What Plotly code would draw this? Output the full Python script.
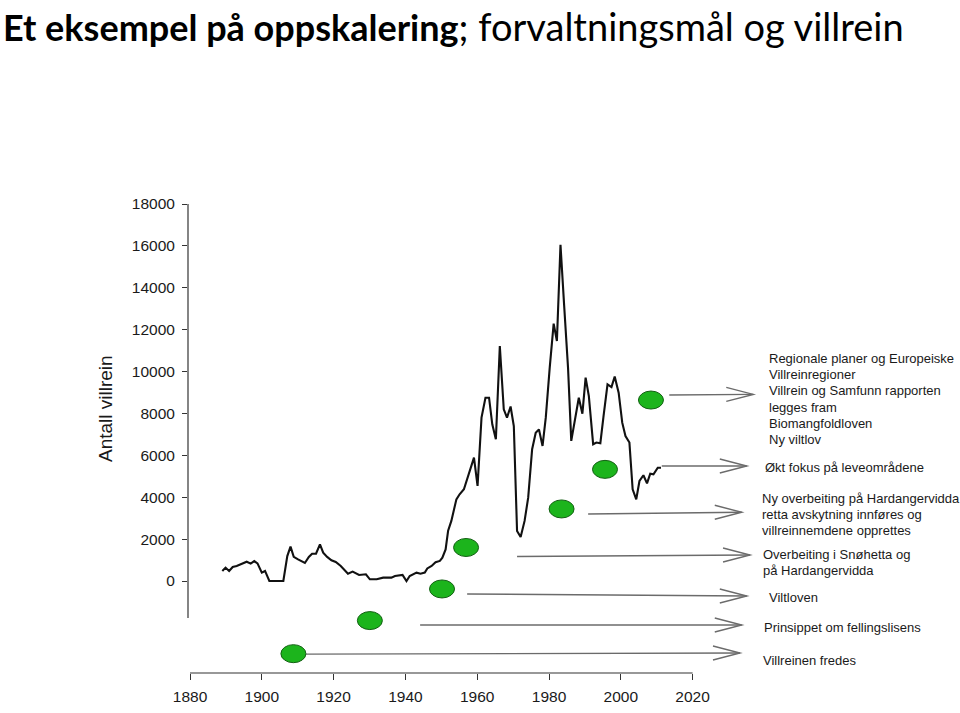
import plotly.graph_objects as go

# ---------------- data ----------------
years = [1889.0, 1889.9, 1890.9, 1891.9, 1893.0, 1894.4, 1895.8, 1896.9, 1897.9, 1898.8,
         1900.0, 1900.9, 1902.1, 1906.0, 1907.1, 1908.0, 1908.9, 1910.1, 1912.0, 1913.1,
         1914.0, 1915.1, 1916.2, 1917.1, 1918.2, 1919.4, 1920.6, 1922.0, 1924.0, 1925.3,
         1927.1, 1929.0, 1930.1, 1932.0, 1933.8, 1936.1, 1937.1, 1939.2, 1940.3, 1941.2,
         1943.1, 1944.2, 1945.4, 1946.1, 1947.3, 1948.4, 1949.6, 1950.3, 1951.2, 1951.9,
         1952.8, 1954.2, 1955.1, 1956.3, 1957.9, 1959.1, 1960.1, 1961.2, 1962.3, 1963.3,
         1964.2, 1965.2, 1966.3, 1967.4, 1968.3, 1969.3, 1970.2, 1971.1, 1972.1, 1973.2,
         1974.2, 1975.3, 1976.3, 1977.2, 1978.2, 1979.1, 1980.2, 1981.3, 1982.2, 1983.2,
         1984.2, 1985.3, 1986.2, 1987.2, 1988.3, 1989.3, 1990.2, 1991.1, 1992.3, 1993.2,
         1994.3, 1995.2, 1996.3, 1997.4, 1998.3, 1999.4, 2000.4, 2001.3, 2002.4, 2003.3,
         2004.3, 2005.2, 2006.3, 2007.3, 2008.2, 2009.1, 2010.3, 2011.2]
villrein = [480, 640, 480, 670, 720, 830, 920, 830, 950, 840,
            400, 480, 0, 0, 1190, 1640, 1150, 1030, 860, 1150,
            1300, 1300, 1750, 1350, 1150, 990, 910, 720, 350, 450,
            290, 320, 80, 80, 160, 160, 240, 290, 0, 240,
            400, 350, 400, 600, 720, 900, 960, 1110, 1510, 2400,
            2870, 3900, 4140, 4380, 5250, 5890, 4540, 7800, 8750, 8750,
            7480, 6770, 11220, 8200, 7800, 8330, 7400, 2390, 2100, 2870,
            3980, 6290, 7080, 7240, 6450, 7800, 10190, 12290, 11460, 16050,
            13210, 10190, 6690, 7720, 8750, 7990, 9710, 8830, 6530, 6610,
            6580, 7880, 9390, 9260, 9760, 8990, 7560, 6920, 6610, 4380,
            3900, 4775, 5050, 4660, 5120, 5090, 5410, 5410]

# event markers (green ellipses): position in year / y-units
event_year = [1908.8, 1930.1, 1950.2, 1956.9, 1983.5, 1995.6, 2008.4]
event_level = [-3470, -1890, -380, 1600, 3440, 5330, 8640]

# arrows: start year, end year, start level, end level
arrow_x0 = [1912.3, 1944.1, 1957.2, 1971.1, 1990.9, 2011.4, 2013.5]
arrow_x1 = [2033.2, 2033.7, 2035.1, 2036.0, 2033.7, 2035.1, 2036.9]
arrow_y0 = [-3490, -2100, -620, 1170, 3200, 5490, 8880]
arrow_y1 = [-3440, -2100, -716, 1240, 3280, 5490, 8910]

# explanatory texts (one block per event)
event_texts = [
    ["Villreinen fredes"],
    ["Prinsippet om fellingslisens"],
    ["Viltloven"],
    ["Overbeiting i Snøhetta og", "på Hardangervidda"],
    ["Ny overbeiting på Hardangervidda", "retta avskytning innføres og", "villreinnemdene opprettes"],
    ["Økt fokus på leveområdene"],
    ["Regionale planer og Europeiske", "Villreinregioner", "Villrein og Samfunn rapporten",
     "legges fram", "Biomangfoldloven", "Ny viltlov"],
]

x_ticks = [1880, 1900, 1920, 1940, 1960, 1980, 2000, 2020]
y_ticks = [0, 2000, 4000, 6000, 8000, 10000, 12000, 14000, 16000, 18000]
y_ticklabels = [str(v) for v in y_ticks]
x_ticklabels = [str(v) for v in x_ticks]

# ---------------- layout geometry ----------------
W, H = 960, 713
ML, MR, MT, MB = 188, 0, 190, 40
PX_YEAR = 3.59          # pixels per year
PX_UNIT = 0.020944      # pixels per animal
X0_PX, Y0_PX = 190, 581  # pixel of 1880 / of 0

def yr(px):
    return 1880 + (px - X0_PX) / PX_YEAR

def val(py):
    return (Y0_PX - py) / PX_UNIT

xrange_ = [yr(ML), yr(W - MR)]
yrange_ = [val(H - MB), val(MT)]

def paper_x(px):
    return (px - ML) / (W - ML - MR)

def paper_y(py):
    return (H - MB - py) / (H - MT - MB)

# text placement (pixel left edge, first-line centre)
text_pos = [(761, 660), (762, 627), (767, 597), (761, 554), (760, 498), (763, 467.5), (767, 358.3)]
LINE_H = 16.3

fig = go.Figure()
fig.add_trace(go.Scatter(x=years, y=villrein, mode="lines",
                         line=dict(color="#111111", width=2.1), hoverinfo="skip",
                         showlegend=False))

shapes = []
# axis lines
shapes.append(dict(type="line", xref="paper", yref="y", x0=0, x1=0, y0=val(618), y1=18000,
                   line=dict(color="#333333", width=1.2)))
shapes.append(dict(type="line", xref="x", yref="paper", x0=1880, x1=2020, y0=0, y1=0,
                   line=dict(color="#333333", width=1.2)))

AR_COL = "#6b6b6b"
for x0, x1, y0, y1 in zip(arrow_x0, arrow_x1, arrow_y0, arrow_y1):
    shapes.append(dict(type="line", xref="x", yref="y", x0=x0, x1=x1, y0=y0, y1=y1,
                       line=dict(color=AR_COL, width=1.4)))
    shapes.append(dict(type="path", xref="x", yref="y", xsizemode="pixel", ysizemode="pixel",
                       xanchor=x1, yanchor=y1, path="M -27,7 L 0,0 L -27,-7",
                       line=dict(color=AR_COL, width=1.4)))

for ex, ey in zip(event_year, event_level):
    shapes.append(dict(type="circle", xref="x", yref="y", xsizemode="pixel", ysizemode="pixel",
                       xanchor=ex, yanchor=ey, x0=-12.5, x1=12.5, y0=-9, y1=9,
                       fillcolor="#1cb41c", line=dict(color="#135f13", width=1)))

annotations = []
for lines, (px, py) in zip(event_texts, text_pos):
    for i, t in enumerate(lines):
        annotations.append(dict(x=yr(px), y=val(py + i * LINE_H), xref="x", yref="y",
                                text=t, showarrow=False, xanchor="left", yanchor="middle",
                                font=dict(family="Liberation Sans, Arial", size=13, color="#1a1a1a")))

annotations.append(dict(x=paper_x(105), y=val(409), xref="paper", yref="y",
                        text="Antall villrein", textangle=-90, showarrow=False,
                        xanchor="center", yanchor="middle",
                        font=dict(family="Liberation Sans, Arial", size=19, color="#1a1a1a")))

annotations.append(dict(x=paper_x(1), y=paper_y(1), xref="paper", yref="paper",
                        text=("<b><span style='font-size:36px'>Et eksempel på oppskalering</span></b>"
                              "<span style='font-size:38px'>; forvaltningsmål og villrein</span>"),
                        showarrow=False, xanchor="left", yanchor="top",
                        font=dict(family="Lato, Liberation Sans, Arial", size=38, color="#000000")))

fig.update_layout(
    width=W, height=H,
    margin=dict(l=ML, r=MR, t=MT, b=MB, pad=0),
    paper_bgcolor="white", plot_bgcolor="white",
    showlegend=False, hovermode=False,
    shapes=shapes, annotations=annotations,
    xaxis=dict(range=xrange_, showgrid=False, zeroline=False, showline=False,
               tickmode="array", tickvals=x_ticks, ticktext=x_ticklabels,
               ticks="outside", ticklen=6,
               tickcolor="#333333", tickwidth=1.2, ticklabelstandoff=3,
               tickfont=dict(family="Liberation Sans, Arial", size=15.5, color="#1a1a1a")),
    yaxis=dict(range=yrange_, showgrid=False, zeroline=False, showline=False,
               tickmode="array", tickvals=y_ticks, ticktext=y_ticklabels,
               ticks="outside", ticklen=5,
               tickcolor="#333333", tickwidth=1.2, ticklabelstandoff=4,
               tickfont=dict(family="Liberation Sans, Arial", size=15.5, color="#1a1a1a")),
)

fig.write_html("out.html", config={"displayModeBar": False},
               post_script="document.body.style.margin='0';document.body.style.overflow='hidden';")
